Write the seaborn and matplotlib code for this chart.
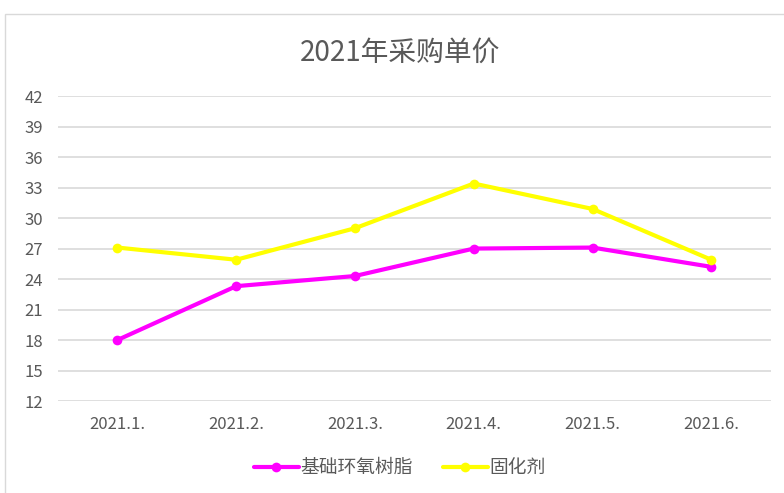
import pandas as pd
import matplotlib.pyplot as plt
from matplotlib.patches import Rectangle
import seaborn as sns

# data
months = ['2021.1.', '2021.2.', '2021.3.', '2021.4.', '2021.5.', '2021.6.']
resin = [18.0, 23.3, 24.3, 27.0, 27.1, 25.2]
hardener = [27.1, 25.9, 29.0, 33.4, 30.9, 25.9]
series_names = ['基础环氧树脂', '固化剂']
series_colors = ['#FF00FF', '#FFFF00']
y_ticks = list(range(12, 43, 3))

df = pd.DataFrame({
    'month': months * 2,
    'price': resin + hardener,
    'series': [series_names[0]] * len(months) + [series_names[1]] * len(months),
})

sns.set_theme(style='white')
plt.rcParams['font.family'] = ['Noto Sans CJK SC', 'DejaVu Sans']

fig = plt.figure(figsize=(7.84, 4.93), dpi=100)
ax = fig.add_axes([0.074, 0.1866, 0.909, 0.6184])

# chart-area border like the screenshot
fig.patches.append(Rectangle((5 / 784, -0.01), 1.0, 1 - 14 / 493 + 0.01,
                             transform=fig.transFigure, fill=False,
                             edgecolor='#d9d9d9', linewidth=1.0))

sns.lineplot(data=df, x='month', y='price', hue='series', hue_order=series_names,
             palette=series_colors, marker='o', markersize=7, markeredgewidth=0,
             linewidth=3, sort=False, ax=ax, legend=True)

ax.set_ylim(12, 42)
ax.set_xlim(-0.5, len(months) - 0.5)
ax.set_yticks(y_ticks)
ax.yaxis.grid(True, color='#d9d9d9', linewidth=1.2)
ax.set_axisbelow(True)
for s in ax.spines.values():
    s.set_visible(False)
ax.tick_params(axis='both', length=0, labelsize=12, labelcolor='#595959')
ax.tick_params(axis='x', pad=11)
ax.tick_params(axis='y', pad=11)
ax.set_xlabel('')
ax.set_ylabel('')

fig.text(0.51, 0.893, '2021年采购单价', ha='center', va='center',
         fontsize=20, color='#595959')

handles, labels = ax.get_legend_handles_labels()
ax.legend(handles, labels, loc='center', bbox_to_anchor=(0.51, 0.051),
          bbox_transform=fig.transFigure, ncol=2, frameon=False,
          fontsize=13.5, labelcolor='#595959', handlelength=2.4,
          handletextpad=0.1, columnspacing=1.6)

fig.savefig('out.png', dpi=100)
